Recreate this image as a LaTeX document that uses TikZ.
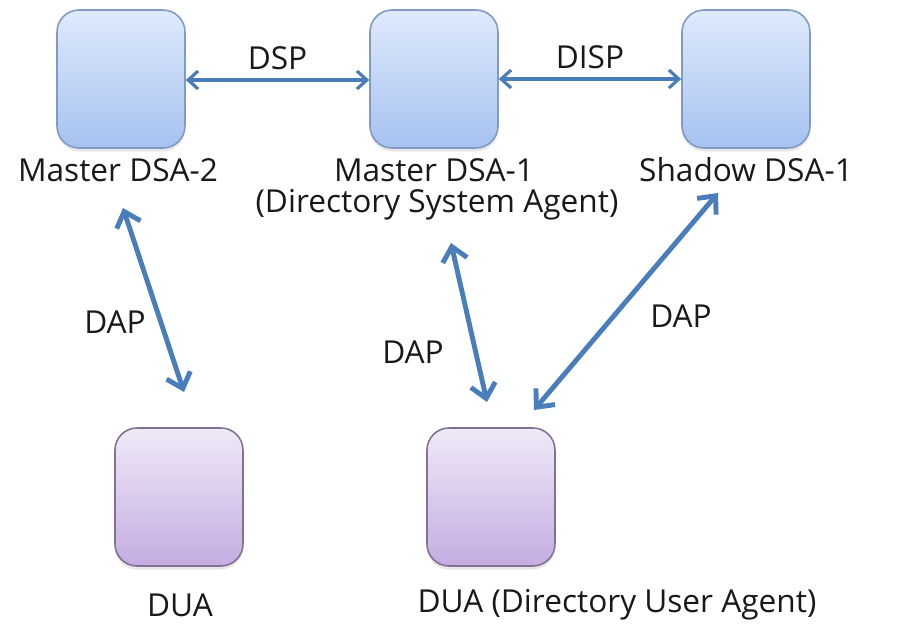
\documentclass[tikz,border=0pt]{standalone}
\usepackage{fontspec}
\setmainfont{Open Sans}
\usetikzlibrary{arrows.meta,shadows}
\definecolor{linkblue}{RGB}{74,126,187}
\definecolor{dsatop}{RGB}{223,234,252}
\definecolor{dsabot}{RGB}{166,194,240}
\definecolor{dsaline}{RGB}{128,154,196}
\definecolor{duatop}{RGB}{240,234,247}
\definecolor{duabot}{RGB}{196,172,226}
\definecolor{dualine}{RGB}{130,112,150}
\definecolor{txt}{RGB}{25,25,25}
\begin{document}
\begin{tikzpicture}[x=0.02cm,y=-0.02cm,
  agent/.style={rounded corners=0.44cm, minimum width=2.56cm, minimum height=2.76cm,
    inner sep=0pt, line width=0.9pt,
    drop shadow={opacity=0.18, shadow xshift=0pt, shadow yshift=-2pt}},
  dsa/.style={agent, draw=dsaline, top color=dsatop, bottom color=dsabot},
  dua/.style={agent, draw=dualine, top color=duatop, bottom color=duabot},
  lbl/.style={text=txt, font=\fontsize{18}{22}\selectfont, inner sep=0pt},
  peer/.style={draw=linkblue, line width=1.8pt,
    {Straight Barb[length=0.2cm,width=0.36cm]}-{Straight Barb[length=0.2cm,width=0.36cm]}},
  access/.style={draw=linkblue, line width=2.8pt,
    {Straight Barb[length=0.28cm,width=0.5cm]}-{Straight Barb[length=0.28cm,width=0.5cm]}}
]
\useasboundingbox (0,0) rectangle (900,629);

% directory system agents
\node[dsa] (m2) at (121,79) {};
\node[dsa] (m1) at (434,79) {};
\node[dsa] (sh) at (746,79) {};
% directory user agents
\node[dua] (u1) at (179,497) {};
\node[dua] (u2) at (491,497) {};

% captions
\node[lbl] (tm2) at (118,170) {Master DSA-2};
\node[lbl] (tm1) at (434,170) {Master DSA-1};
\node[lbl] (tm1b) at (437,205) {(Directory System Agent)};
\node[lbl] (tsh) at (746,170) {Shadow DSA-1};
\node[lbl] (tu1) at (180,605) {DUA};
\node[lbl] (tu2) at (617,605) {DUA (Directory User Agent)};

% protocol links between agents
\draw[peer] (m2.east |- 0,80) -- (m1.west |- 0,80) node[lbl, midway, above=5pt] (dsp) {DSP};
\draw[peer] (m1.east |- 0,79) -- (sh.west |- 0,79) node[lbl, midway, above=5pt] (disp) {DISP};

\coordinate (a1s) at (123,208);
\coordinate (a1e) at (184,392);
\coordinate (a2s) at (451,243);
\coordinate (a2e) at (487,402);
\coordinate (a3s) at (534,410);
\coordinate (a3e) at (718,193);
\draw[access] (a1s) -- (a1e);
\draw[access] (a2s) -- (a2e);
\draw[access] (a3s) -- (a3e);
\node[lbl] (dap1) at (115,322) {DAP};
\node[lbl] (dap2) at (413,352) {DAP};
\node[lbl] (dap3) at (681,316) {DAP};
\end{tikzpicture}
\end{document}
